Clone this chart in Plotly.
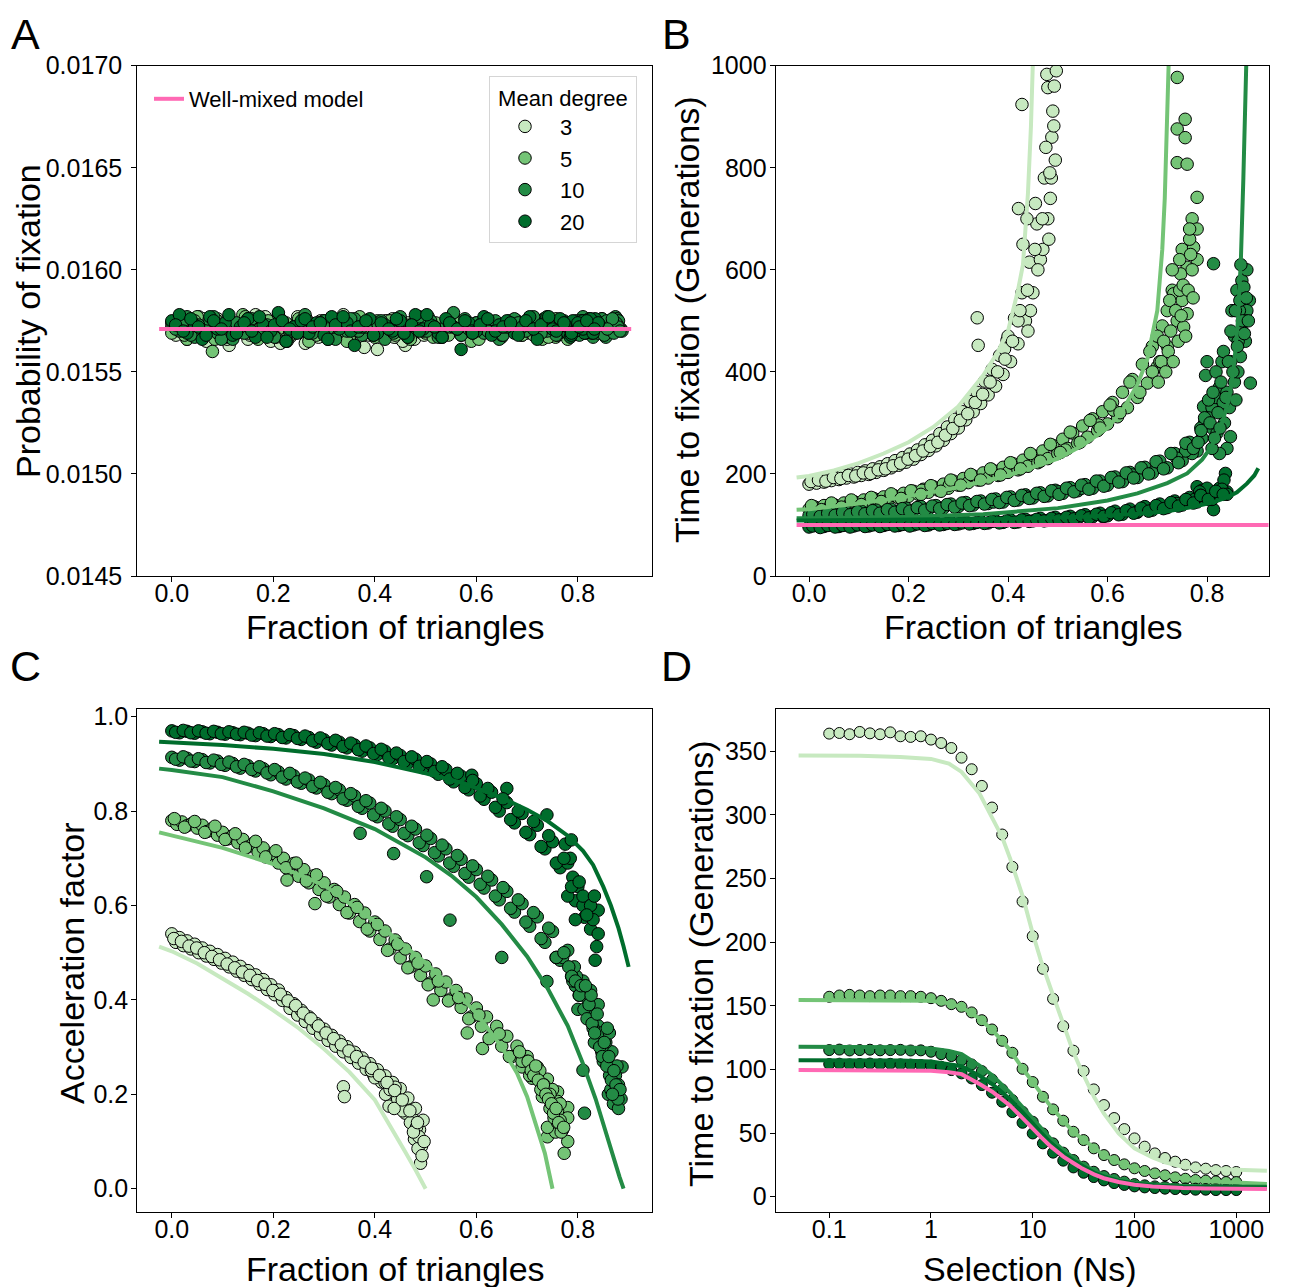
import plotly.graph_objects as go

FONT = "Liberation Sans, Arial, sans-serif"
DEGREES = ["3", "5", "10", "20"]
COLORS = ["#c7e9c0", "#74c476", "#238b45", "#006d2c"]
PINK = "#ff69b4"

# ---------------- Panels A/B/C : per-network data ----------------
# k = 3
X3 = [0.000,0.008,0.015,0.023,0.030,0.038,0.045,0.053,0.060,0.068,
      0.075,0.083,0.090,0.098,0.105,0.113,0.120,0.128,0.135,0.143,
      0.150,0.158,0.165,0.173,0.180,0.188,0.195,0.203,0.210,0.218,
      0.225,0.233,0.240,0.248,0.255,0.263,0.270,0.278,0.285,0.293,
      0.300,0.308,0.315,0.323,0.330,0.338,0.345,0.353,0.360,0.368,
      0.375,0.383,0.390,0.398,0.405,0.413,0.420,0.428,0.435,0.443,
      0.450,0.458,0.465,0.473,0.480,0.488,0.495,
      0.338,0.340,0.428,0.478,0.480,0.490,0.492,0.460,0.470,0.482,
      0.445,0.420,0.485,0.487,0.493,0.497,0.476,0.455,0.400,0.393,
      0.421,0.430,0.438,0.440]
X3_MORE = [0.004,0.019,0.034,0.049,0.064,0.079,0.094,0.109,0.124,0.139,
           0.154,0.169,0.184,0.199,0.214,0.229,0.244,0.259,0.274,0.289,
           0.304,0.319,0.334,0.349,0.364,0.379,0.394,0.409,0.424,0.439,
           0.454,0.469,0.484]
A3 = [0.01572,0.01568,0.01575,0.01570,0.01566,0.01574,0.01569,0.01577,0.01571,0.01565,
      0.01573,0.01570,0.01576,0.01567,0.01572,0.01563,0.01574,0.01569,0.01571,0.01575,
      0.01566,0.01572,0.01578,0.01568,0.01570,0.01574,0.01565,0.01571,0.01576,0.01569,
      0.01573,0.01567,0.01572,0.01577,0.01570,0.01564,0.01573,0.01571,0.01568,0.01575,
      0.01570,0.01566,0.01574,0.01572,0.01569,0.01578,0.01567,0.01571,0.01573,0.01565,
      0.01570,0.01575,0.01568,0.01572,0.01561,0.01574,0.01569,0.01571,0.01576,0.01567,
      0.01573,0.01570,0.01574,0.01566,0.01572,0.01569,0.01575,
      0.01571,0.01568,0.01574,0.01566,0.01572,0.01575,0.01569,0.01563,0.01573,0.01570,
      0.01576,0.01567,0.01572,0.01570,0.01574,0.01568,0.01571,0.01565,0.01573,0.01569,
      0.01575,0.01570,0.01567,0.01572]
A3_MORE = [0.01570,0.01574,0.01567,0.01572,0.01576,0.01569,0.01573,0.01566,0.01571,0.01575,
           0.01568,0.01572,0.01577,0.01570,0.01564,0.01573,0.01569,0.01575,0.01571,0.01567,
           0.01574,0.01570,0.01576,0.01568,0.01572,0.01562,0.01573,0.01570,0.01575,0.01569,
           0.01572,0.01567,0.01574]
B3 = [180,186,182,189,184,192,187,195,189,198,
      192,200,194,203,197,206,199,210,203,214,
      207,220,212,226,217,232,223,239,229,247,
      238,257,246,266,255,279,266,292,279,307,
      290,322,306,342,322,360,338,382,355,405,
      372,432,395,462,420,505,455,555,500,615,
      555,690,620,780,700,860,815,
      506,452,924,983,957,911,882,600,640,660,
      520,500,740,780,960,990,840,730,470,445,
      720,650,700,480]
B3_MORE = [185,188,186,193,191,197,196,202,201,208,
           210,216,221,229,236,245,254,262,276,289,
           305,318,340,356,380,400,425,460,520,560,
           640,700,790]
C3 = [0.540,0.522,0.532,0.515,0.525,0.508,0.518,0.500,0.510,0.493,
      0.503,0.486,0.496,0.478,0.488,0.470,0.480,0.461,0.471,0.452,
      0.462,0.443,0.453,0.433,0.443,0.422,0.432,0.411,0.421,0.399,
      0.405,0.382,0.392,0.368,0.378,0.354,0.364,0.340,0.350,0.327,
      0.338,0.314,0.325,0.302,0.313,0.290,0.301,0.278,0.289,0.266,
      0.277,0.253,0.265,0.240,0.252,0.226,0.239,0.212,0.225,0.195,
      0.212,0.176,0.192,0.152,0.170,0.125,0.145,
      0.216,0.195,0.175,0.105,0.125,0.054,0.090,0.160,0.140,0.130,
      0.190,0.225,0.085,0.110,0.070,0.100,0.120,0.165,0.235,0.250,
      0.200,0.210,0.170,0.215]
C3_MORE = [0.530,0.524,0.514,0.510,0.500,0.492,0.485,0.476,0.468,0.459,
           0.452,0.441,0.433,0.420,0.412,0.398,0.388,0.372,0.360,0.345,
           0.330,0.318,0.305,0.292,0.280,0.268,0.255,0.240,0.225,0.208,
           0.188,0.165,0.140]

# k = 5
X5 = [0.00,0.01,0.02,0.03,0.04,0.05,0.06,0.07,0.08,0.09,
      0.10,0.11,0.12,0.13,0.14,0.15,0.16,0.17,0.18,0.19,
      0.20,0.21,0.22,0.23,0.24,0.25,0.26,0.27,0.28,0.29,
      0.30,0.31,0.32,0.33,0.34,0.35,0.36,0.37,0.38,0.39,
      0.40,0.41,0.42,0.43,0.44,0.45,0.46,0.47,0.48,0.49,
      0.50,0.51,0.52,0.53,0.54,0.55,0.56,0.57,0.58,0.59,
      0.60,0.61,0.62,0.63,0.64,0.65,0.66,0.67,0.68,0.69,
      0.70,0.71,0.72,0.73,0.74,0.75,0.76,0.77,0.78,
      0.740,0.756,0.740,0.756,0.740,0.760,0.780,0.780,0.773,0.760,
      0.747,0.733,0.760,0.753,0.612,0.582,0.515,0.720,0.700,0.730,
      0.750,0.690,0.770,0.765,0.745,0.227,0.282]
X5_MORE = [0.005,0.025,0.045,0.065,0.085,0.105,0.125,0.145,0.165,0.185,
           0.205,0.225,0.245,0.265,0.285,0.305,0.325,0.345,0.365,0.385,
           0.405,0.425,0.445,0.465,0.485,0.505,0.525,0.545,0.565,0.585,
           0.605,0.625,0.645,0.665,0.685,0.705,0.725,0.745,0.765,
           0.702,0.708,0.713,0.717,0.722,0.727,0.732,0.737,0.742,0.748,
           0.752,0.757,0.762,0.767,0.772]
A5 = [0.01569,0.01574,0.01571,0.01566,0.01573,0.01577,0.01568,0.01572,0.01560,0.01575,
      0.01570,0.01567,0.01574,0.01571,0.01578,0.01569,0.01573,0.01566,0.01572,0.01575,
      0.01568,0.01571,0.01574,0.01567,0.01570,0.01576,0.01572,0.01565,0.01573,0.01569,
      0.01575,0.01571,0.01568,0.01574,0.01570,0.01566,0.01573,0.01577,0.01569,0.01572,
      0.01567,0.01574,0.01571,0.01575,0.01568,0.01570,0.01573,0.01566,0.01572,0.01576,
      0.01569,0.01571,0.01574,0.01567,0.01573,0.01570,0.01575,0.01568,0.01572,0.01565,
      0.01574,0.01570,0.01576,0.01569,0.01572,0.01567,0.01573,0.01571,0.01575,0.01568,
      0.01572,0.01570,0.01574,0.01566,0.01573,0.01569,0.01575,0.01571,0.01568,
      0.01572,0.01569,0.01574,0.01567,0.01571,0.01575,0.01570,0.01566,0.01573,0.01569,
      0.01572,0.01576,0.01568,0.01571,0.01574,0.01570,0.01567,0.01573,0.01569,0.01575,
      0.01571,0.01568,0.01574,0.01570,0.01572,0.01565,0.01573]
A5_MORE = [0.01573,0.01568,0.01575,0.01570,0.01566,0.01574,0.01571,0.01577,0.01569,0.01572,
           0.01567,0.01574,0.01570,0.01576,0.01568,0.01573,0.01571,0.01565,0.01574,0.01570,
           0.01575,0.01569,0.01572,0.01567,0.01573,0.01577,0.01570,0.01568,0.01574,0.01571,
           0.01566,0.01573,0.01569,0.01575,0.01570,0.01572,0.01568,0.01574,0.01571,
           0.01570,0.01574,0.01568,0.01572,0.01575,0.01569,0.01573,0.01571,0.01567,0.01574,
           0.01570,0.01576,0.01569,0.01572,0.01570]
B5 = [131,136,133,138,134,140,136,143,139,146,
      142,149,145,152,148,155,150,158,153,162,
      156,166,160,170,164,175,168,180,172,186,
      178,191,183,196,188,202,192,207,197,213,
      203,220,208,227,215,236,222,245,230,256,
      240,268,250,280,260,294,272,308,285,322,
      298,340,312,360,330,385,350,415,378,450,
      410,490,450,560,500,640,560,700,620,
      977,895,876,859,810,807,742,680,644,605,
      592,553,514,488,325,296,247,520,470,600,
      540,400,600,660,620,168,178]
B5_MORE = [138,130,143,135,149,140,154,146,161,152,
           167,160,177,166,188,178,199,188,210,198,
           222,210,240,225,258,242,282,262,305,290,
           335,320,380,360,440,420,540,560,680,
           380,420,460,400,440,480,420,520,460,510,
           570,470,560,630,545]
C5 = [0.780,0.772,0.777,0.769,0.774,0.764,0.770,0.757,0.763,0.749,
      0.755,0.741,0.748,0.733,0.740,0.724,0.731,0.713,0.722,0.702,
      0.710,0.690,0.700,0.676,0.689,0.662,0.676,0.648,0.663,0.634,
      0.648,0.618,0.634,0.602,0.618,0.584,0.602,0.566,0.584,0.546,
      0.565,0.528,0.546,0.508,0.527,0.489,0.508,0.470,0.490,0.452,
      0.472,0.436,0.455,0.420,0.438,0.402,0.420,0.384,0.402,0.364,
      0.383,0.344,0.364,0.324,0.344,0.302,0.323,0.280,0.302,0.258,
      0.280,0.234,0.258,0.208,0.232,0.178,0.205,0.148,0.172,
      0.110,0.120,0.130,0.160,0.200,0.140,0.100,0.150,0.075,0.165,
      0.190,0.220,0.185,0.150,0.297,0.330,0.400,0.240,0.270,0.195,
      0.210,0.270,0.125,0.145,0.170,0.654,0.604]
C5_MORE = [0.784,0.766,0.778,0.755,0.768,0.740,0.752,0.722,0.736,0.703,
           0.716,0.680,0.690,0.652,0.665,0.620,0.630,0.585,0.596,0.550,
           0.560,0.505,0.518,0.468,0.478,0.432,0.440,0.398,0.405,0.360,
           0.368,0.318,0.328,0.280,0.290,0.240,0.250,0.200,0.180,
           0.270,0.250,0.240,0.260,0.230,0.210,0.220,0.200,0.190,0.180,
           0.160,0.170,0.140,0.120,0.130]

# k = 10
X10 = [0.000,0.015,0.030,0.045,0.060,0.075,0.090,0.105,0.120,0.135,
       0.150,0.165,0.180,0.195,0.210,0.225,0.240,0.255,0.270,0.285,
       0.300,0.315,0.330,0.345,0.360,0.375,0.390,0.405,0.420,0.435,
       0.450,0.465,0.480,0.495,0.510,0.525,0.540,0.555,0.570,0.585,
       0.600,0.615,0.630,0.645,0.660,0.675,0.690,0.705,0.720,0.735,
       0.750,0.765,0.780,0.795,0.810,0.825,0.840,0.855,0.870,0.885,
       0.800,0.797,0.813,0.793,0.887,0.847,0.650,0.548,0.860,0.870,
       0.874,0.880,0.867,0.855,0.845,0.835,0.820,0.810,0.830,0.850,
       0.862,0.877,0.840,0.825,0.810,0.790,0.770,0.757,0.880,0.865,
       0.371,0.437,0.502,0.739]
X10_MORE = [0.0075,0.0225,0.0375,0.0525,0.0675,0.0825,0.0975,0.1125,0.1275,0.1425,
            0.1575,0.1725,0.1875,0.2025,0.2175,0.2325,0.2475,0.2625,0.2775,0.2925,
            0.3075,0.3225,0.3375,0.3525,0.3675,0.3825,0.3975,0.4125,0.4275,0.4425,
            0.4575,0.4725,0.4875,0.5025,0.5175,0.5325,0.5475,0.5625,0.5775,0.5925,
            0.6075,0.6225,0.6375,0.6525,0.6675,0.6825,0.6975,0.7125,0.7275,0.7425,
            0.7575,0.7725,0.7875,0.8025,0.8175,0.8325,0.8475,0.8625,0.8775,
            0.782,0.788,0.795,0.803,0.806,0.812,0.818,0.822,0.828,0.833,
            0.838,0.843,0.848,0.852,0.857,0.861,0.866,0.871,0.875,0.879,
            0.883,0.868,0.858,0.826,0.815]
A10 = [0.01574,0.01570,0.01577,0.01567,0.01572,0.01575,0.01569,0.01573,0.01566,0.01571,
       0.01576,0.01568,0.01573,0.01570,0.01578,0.01565,0.01572,0.01574,0.01569,0.01571,
       0.01575,0.01567,0.01573,0.01570,0.01576,0.01568,0.01572,0.01574,0.01566,0.01571,
       0.01577,0.01569,0.01573,0.01570,0.01575,0.01567,0.01572,0.01579,0.01568,0.01571,
       0.01574,0.01569,0.01573,0.01566,0.01571,0.01576,0.01570,0.01573,0.01568,0.01575,
       0.01571,0.01574,0.01569,0.01572,0.01577,0.01570,0.01573,0.01567,0.01574,0.01571,
       0.01572,0.01575,0.01569,0.01573,0.01570,0.01576,0.01568,0.01572,0.01574,0.01570,
       0.01577,0.01571,0.01573,0.01569,0.01575,0.01570,0.01572,0.01574,0.01567,0.01573,
       0.01571,0.01576,0.01569,0.01572,0.01574,0.01570,0.01573,0.01568,0.01575,0.01571,
       0.01572,0.01569,0.01574,0.01570]
A10_MORE = [0.01571,0.01575,0.01568,0.01573,0.01570,0.01577,0.01566,0.01572,0.01574,0.01569,
            0.01576,0.01571,0.01573,0.01567,0.01575,0.01570,0.01572,0.01578,0.01569,0.01574,
            0.01571,0.01566,0.01573,0.01576,0.01570,0.01572,0.01568,0.01575,0.01571,0.01574,
            0.01569,0.01573,0.01577,0.01570,0.01572,0.01567,0.01574,0.01571,0.01576,0.01569,
            0.01573,0.01570,0.01575,0.01568,0.01572,0.01574,0.01570,0.01577,0.01569,0.01573,
            0.01571,0.01575,0.01568,0.01572,0.01574,0.01570,0.01576,0.01571,0.01573,
            0.01574,0.01570,0.01573,0.01568,0.01575,0.01571,0.01572,0.01576,0.01569,0.01573,
            0.01570,0.01574,0.01572,0.01568,0.01575,0.01571,0.01573,0.01569,0.01574,0.01572,
            0.01570,0.01576,0.01571,0.01573,0.01569]
B10 = [118,122,119,124,120,125,121,127,123,129,
       125,131,127,133,129,136,131,138,133,141,
       136,144,139,147,142,151,145,155,149,159,
       153,163,157,168,162,173,167,179,172,186,
       178,194,185,203,193,213,202,225,212,240,
       226,262,245,300,290,370,360,470,480,540,
       420,393,612,332,378,273,198,172,560,579,
       566,520,430,380,330,300,280,330,420,520,
       400,460,250,240,250,270,240,245,600,520,
       145,155,165,231]
B10_MORE = [121,117,123,119,125,120,126,122,128,123,
            130,125,132,127,134,129,137,132,140,135,
            143,138,146,141,150,144,154,148,158,152,
            162,156,167,160,172,165,178,170,186,176,
            193,184,202,192,212,200,224,210,240,222,
            260,250,290,310,350,340,420,460,500,
            262,285,310,345,300,360,400,320,380,440,
            350,420,480,400,520,450,540,500,475,545,
            500,610,345,290,270]
C10 = [0.914,0.908,0.912,0.905,0.909,0.902,0.906,0.897,0.901,0.891,
       0.896,0.885,0.890,0.877,0.883,0.868,0.875,0.859,0.866,0.849,
       0.856,0.837,0.845,0.823,0.832,0.806,0.817,0.788,0.800,0.768,
       0.782,0.748,0.762,0.727,0.742,0.705,0.720,0.683,0.698,0.660,
       0.676,0.637,0.654,0.612,0.630,0.586,0.604,0.556,0.576,0.522,
       0.545,0.484,0.505,0.430,0.440,0.360,0.345,0.270,0.230,0.190,
       0.380,0.450,0.160,0.470,0.258,0.290,0.490,0.569,0.200,0.180,
       0.240,0.220,0.290,0.310,0.330,0.370,0.400,0.251,0.340,0.270,
       0.330,0.260,0.390,0.420,0.420,0.440,0.490,0.490,0.170,0.210,
       0.753,0.710,0.661,0.439]
C10_MORE = [0.910,0.915,0.906,0.911,0.903,0.908,0.899,0.904,0.894,0.899,
            0.888,0.894,0.881,0.888,0.872,0.880,0.862,0.870,0.852,0.861,
            0.840,0.850,0.826,0.837,0.810,0.822,0.792,0.806,0.773,0.788,
            0.753,0.768,0.733,0.749,0.712,0.728,0.690,0.706,0.668,0.684,
            0.645,0.662,0.620,0.638,0.594,0.612,0.565,0.585,0.530,0.552,
            0.490,0.500,0.450,0.410,0.380,0.310,0.300,0.240,0.210,
            0.470,0.450,0.440,0.410,0.430,0.380,0.360,0.390,0.350,0.330,
            0.370,0.300,0.280,0.310,0.260,0.280,0.230,0.250,0.220,0.190,
            0.210,0.200,0.340,0.410,0.430]

# k = 20
X20 = [0.000,0.015,0.030,0.045,0.060,0.075,0.090,0.105,0.120,0.135,
       0.150,0.165,0.180,0.195,0.210,0.225,0.240,0.255,0.270,0.285,
       0.300,0.315,0.330,0.345,0.360,0.375,0.390,0.405,0.420,0.435,
       0.450,0.465,0.480,0.495,0.510,0.525,0.540,0.555,0.570,0.585,
       0.600,0.615,0.630,0.645,0.660,0.675,0.690,0.705,0.720,0.735,
       0.750,0.765,0.780,0.795,0.810,0.825,0.840,
       0.837,0.834,0.813,0.780,0.790,0.795,0.800,0.785,0.775,0.810,
       0.825,0.830,0.840,0.591,0.660,0.739,0.787]
X20_MORE = [0.0075,0.0225,0.0375,0.0525,0.0675,0.0825,0.0975,0.1125,0.1275,0.1425,
            0.1575,0.1725,0.1875,0.2025,0.2175,0.2325,0.2475,0.2625,0.2775,0.2925,
            0.3075,0.3225,0.3375,0.3525,0.3675,0.3825,0.3975,0.4125,0.4275,0.4425,
            0.4575,0.4725,0.4875,0.5025,0.5175,0.5325,0.5475,0.5625,0.5775,0.5925,
            0.6075,0.6225,0.6375,0.6525,0.6675,0.6825,0.6975,0.7125,0.7275,0.7425,
            0.7575,0.7725,0.7875,0.8025,0.8175,0.8325]
A20 = [0.01575,0.01578,0.01569,0.01573,0.01566,0.01577,0.01571,0.01574,0.01568,0.01572,
       0.01576,0.01567,0.01573,0.01570,0.01579,0.01565,0.01572,0.01575,0.01569,0.01574,
       0.01568,0.01577,0.01571,0.01574,0.01563,0.01572,0.01576,0.01569,0.01573,0.01570,
       0.01575,0.01567,0.01578,0.01571,0.01573,0.01569,0.01576,0.01572,0.01561,0.01574,
       0.01570,0.01577,0.01568,0.01573,0.01575,0.01569,0.01572,0.01577,0.01566,0.01574,
       0.01571,0.01576,0.01569,0.01573,0.01575,0.01570,0.01574,
       0.01573,0.01576,0.01569,0.01572,0.01575,0.01570,0.01574,0.01567,0.01573,0.01571,
       0.01576,0.01569,0.01574,0.01570,0.01572,0.01577,0.01568]
A20_MORE = [0.01573,0.01570,0.01576,0.01572,0.01568,0.01575,0.01571,0.01578,0.01569,0.01574,
            0.01570,0.01577,0.01567,0.01573,0.01575,0.01571,0.01569,0.01576,0.01572,0.01574,
            0.01566,0.01573,0.01577,0.01570,0.01572,0.01575,0.01568,0.01574,0.01571,0.01576,
            0.01569,0.01573,0.01570,0.01578,0.01572,0.01567,0.01574,0.01571,0.01575,0.01569,
            0.01573,0.01576,0.01570,0.01572,0.01574,0.01568,0.01575,0.01571,0.01573,0.01577,
            0.01570,0.01574,0.01569,0.01572,0.01575,0.01571]
B20 = [96,99,97,100,97,100,98,101,98,101,
       99,102,99,102,100,103,100,104,101,105,
       102,106,103,107,104,108,105,110,106,111,
       108,113,109,115,111,117,113,120,116,123,
       118,127,121,131,125,136,129,141,134,147,
       139,154,145,162,155,172,165,
       201,188,130,175,168,160,172,165,150,150,
       160,170,160,116,126,142,158]
B20_MORE = [98,95,99,96,99,96,100,97,100,97,
            101,98,101,98,102,99,103,100,103,101,
            104,102,105,103,107,104,108,105,110,107,
            111,108,113,110,115,112,118,114,121,117,
            124,120,128,123,133,127,138,132,144,137,
            150,143,158,150,166,160]
C20 = [0.970,0.966,0.969,0.965,0.968,0.964,0.967,0.963,0.966,0.962,
       0.965,0.960,0.964,0.958,0.962,0.955,0.960,0.952,0.956,0.946,
       0.951,0.940,0.946,0.934,0.940,0.927,0.934,0.920,0.927,0.911,
       0.918,0.902,0.910,0.892,0.900,0.878,0.888,0.862,0.874,0.845,
       0.858,0.825,0.840,0.800,0.818,0.775,0.795,0.750,0.770,0.720,
       0.735,0.680,0.690,0.610,0.600,0.550,0.590,
       0.513,0.484,0.575,0.620,0.660,0.570,0.640,0.700,0.730,0.620,
       0.600,0.570,0.540,0.876,0.848,0.792,0.739]
C20_MORE = [0.967,0.971,0.966,0.970,0.965,0.969,0.964,0.968,0.963,0.967,
            0.961,0.966,0.959,0.964,0.956,0.962,0.954,0.959,0.949,0.955,
            0.943,0.950,0.937,0.944,0.930,0.938,0.922,0.931,0.913,0.923,
            0.905,0.915,0.895,0.905,0.884,0.894,0.868,0.880,0.850,0.865,
            0.832,0.848,0.808,0.826,0.782,0.800,0.755,0.778,0.725,0.748,
            0.690,0.700,0.640,0.650,0.580,0.620]

# ---------------- Model curves ----------------
WM_A_X = [-0.025, 0.905]
WM_A_Y = [0.01571, 0.01571]
WM_B_X = [-0.025, 0.925]
WM_B_Y = [100, 100]

LB3_X = [-0.025, 0.0, 0.05, 0.10, 0.15, 0.20, 0.25, 0.30, 0.35, 0.38, 0.40, 0.42, 0.43, 0.44, 0.446, 0.450]
LB3_Y = [193, 196, 207, 221, 240, 262, 292, 332, 393, 440, 480, 560, 610, 750, 880, 1010]
LB5_X = [-0.025, 0.0, 0.1, 0.2, 0.3, 0.4, 0.5, 0.55, 0.6, 0.63, 0.66, 0.68, 0.70, 0.71, 0.715, 0.72, 0.723]
LB5_Y = [130, 131, 142, 156, 174, 197, 230, 256, 290, 325, 375, 425, 520, 640, 740, 900, 1010]
LB10_X = [-0.025, 0.0, 0.2, 0.35, 0.5, 0.6, 0.66, 0.72, 0.76, 0.79, 0.81, 0.83, 0.845, 0.855, 0.862, 0.868, 0.873, 0.877, 0.879]
LB10_Y = [113, 113, 116, 121, 133, 148, 162, 182, 201, 228, 255, 300, 350, 420, 500, 620, 780, 980, 1010]
LB20_X = [-0.025, 0.2, 0.4, 0.55, 0.65, 0.72, 0.77, 0.81, 0.84, 0.86, 0.88, 0.895, 0.903]
LB20_Y = [109, 110, 112, 116, 121, 127, 135, 144, 154, 164, 181, 197, 211]

LC3_X = [-0.025, 0.0, 0.05, 0.1, 0.15, 0.2, 0.25, 0.3, 0.35, 0.4, 0.43, 0.46, 0.48, 0.5]
LC3_Y = [0.513, 0.503, 0.477, 0.446, 0.413, 0.378, 0.340, 0.296, 0.247, 0.188, 0.135, 0.078, 0.040, 0.0]
LC5_X = [-0.025, 0.0, 0.1, 0.2, 0.3, 0.4, 0.5, 0.55, 0.6, 0.65, 0.68, 0.7, 0.72, 0.735, 0.75]
LC5_Y = [0.755, 0.748, 0.722, 0.688, 0.643, 0.566, 0.478, 0.428, 0.372, 0.300, 0.245, 0.195, 0.130, 0.075, 0.0]
LC10_X = [-0.025, 0.0, 0.1, 0.2, 0.3, 0.4, 0.5, 0.55, 0.6, 0.65, 0.7, 0.74, 0.78, 0.81, 0.835, 0.855, 0.87, 0.882, 0.89]
LC10_Y = [0.890, 0.887, 0.872, 0.842, 0.806, 0.762, 0.702, 0.664, 0.618, 0.560, 0.492, 0.425, 0.345, 0.265, 0.190, 0.118, 0.065, 0.025, 0.0]
LC20_X = [-0.025, 0.0, 0.1, 0.2, 0.3, 0.4, 0.5, 0.575, 0.65, 0.7, 0.74, 0.78, 0.81, 0.83, 0.85, 0.865, 0.88, 0.89, 0.9]
LC20_Y = [0.947, 0.946, 0.940, 0.932, 0.921, 0.904, 0.880, 0.859, 0.828, 0.803, 0.779, 0.748, 0.716, 0.686, 0.640, 0.600, 0.552, 0.513, 0.470]

# ---------------- Panel D ----------------
SEL = [0.1, 0.1259, 0.1585, 0.1995, 0.2512, 0.3162, 0.3981, 0.5012, 0.631, 0.7943,
       1.0, 1.259, 1.585, 1.995, 2.512, 3.162, 3.981, 5.012, 6.31, 7.943,
       10.0, 12.59, 15.85, 19.95, 25.12, 31.62, 39.81, 50.12, 63.1, 79.43,
       100.0, 125.9, 158.5, 199.5, 251.2, 316.2, 398.1, 501.2, 631.0, 794.3, 1000.0]
D3 = [363.9, 364.4, 363.4, 365.2, 364.1, 363.4, 364.9, 361.8, 361.3, 361.8,
      359.2, 356.5, 352.6, 345.0, 335.9, 322.8, 305.8, 284.6, 259.2, 232.0,
      204.7, 179.1, 155.5, 134.0, 114.7, 98.7, 84.3, 72.0, 61.8, 53.1,
      45.8, 39.3, 34.0, 30.4, 27.5, 25.1, 23.0, 22.0, 20.9, 20.2, 19.4]
D5 = [157.1, 158.1, 158.6, 158.1, 157.6, 158.1, 158.1, 157.6, 157.6, 157.1,
      156.0, 153.9, 151.3, 149.2, 144.8, 138.7, 131.4, 122.5, 113.1, 100.5,
      90.1, 78.5, 68.6, 59.7, 51.0, 44.5, 38.0, 32.7, 28.8, 25.4,
      22.3, 20.2, 18.3, 16.8, 15.2, 14.1, 13.1, 12.6, 12.0, 11.5, 11.5]
D10 = [115.2, 115.6, 114.9, 115.2, 115.5, 115.0, 115.2, 115.4, 114.9, 115.0,
       113.9, 112.0, 110.5, 107.3, 103.9, 98.7, 92.1, 84.3, 75.9, 66.8,
       58.9, 49.7, 41.9, 34.6, 28.8, 23.6, 19.6, 16.2, 13.9, 11.8,
       9.9, 8.9, 8.1, 7.6, 7.1, 6.5, 6.3, 6.0, 6.0, 5.8, 5.8]
D20 = [104.2, 104.5, 104.0, 104.3, 104.6, 104.1, 104.4, 104.0, 103.8, 103.5,
       103.0, 102.1, 99.5, 96.9, 92.9, 87.7, 81.7, 74.6, 66.5, 58.1,
       49.7, 41.9, 34.6, 28.3, 23.0, 18.8, 15.4, 12.8, 10.7, 9.2,
       8.1, 7.3, 6.8, 6.3, 6.0, 5.8, 5.5, 5.5, 5.2, 5.2, 5.2]

SEL_LINE = [0.05, 0.1, 0.2, 0.5, 1, 1.5, 2, 3, 4, 5, 6, 8, 10, 12, 15, 20, 25, 30, 40, 50,
            70, 100, 150, 200, 300, 500, 1000, 2000]
LD3 = [346.6, 346.6, 346.5, 345.5, 344.0, 340.3, 333.8, 316.8, 298.4, 282.7, 265.7, 235.6, 206.8, 185.9,
       163.6, 134.8, 113.9, 99.5, 78.5, 65.4, 49.7, 38.0, 30.9, 27.0, 23.6, 22.0, 20.9, 20.4]
LD5 = [154.5, 154.5, 154.5, 154.3, 154.0, 152.0, 149.0, 140.0, 131.0, 122.5, 115.0, 100.5, 90.0, 81.0,
       71.0, 59.7, 51.0, 46.0, 38.0, 32.7, 27.0, 22.3, 18.6, 16.8, 14.3, 12.3, 10.8, 10.0]
LD10 = [117.8, 117.8, 117.8, 117.4, 116.5, 114.5, 112.0, 103.0, 95.5, 88.0, 81.5, 70.0, 61.0, 54.0,
        45.5, 36.5, 30.5, 26.0, 20.5, 17.0, 13.5, 11.2, 9.7, 9.0, 8.5, 8.2, 8.0, 7.9]
LD20 = [107.3, 107.3, 107.3, 107.0, 106.3, 104.5, 102.5, 95.0, 88.5, 82.0, 76.5, 66.0, 57.0, 50.5,
        42.5, 34.0, 28.5, 24.5, 19.0, 16.0, 12.5, 10.3, 8.9, 8.3, 7.8, 7.5, 7.3, 7.2]
LDWM = [99.5, 99.5, 99.5, 99.3, 99.0, 97.8, 96.3, 88.5, 82.5, 76.5, 71.5, 61.5, 53.0, 47.0,
        39.5, 31.5, 26.5, 22.5, 17.5, 14.5, 11.5, 9.4, 8.0, 7.4, 6.9, 6.5, 6.2, 6.0]

NET = {
    "3": (X3 + X3_MORE, A3 + A3_MORE, B3 + B3_MORE, C3 + C3_MORE),
    "5": (X5 + X5_MORE, A5 + A5_MORE, B5 + B5_MORE, C5 + C5_MORE),
    "10": (X10 + X10_MORE, A10 + A10_MORE, B10 + B10_MORE, C10 + C10_MORE),
    "20": (X20 + X20_MORE, A20 + A20_MORE, B20 + B20_MORE, C20 + C20_MORE),
}
for k, arrs in NET.items():
    lens = [len(a) for a in arrs]
    assert len(set(lens)) == 1, (k, lens)

LINES_B = [(LB3_X, LB3_Y), (LB5_X, LB5_Y), (LB10_X, LB10_Y), (LB20_X, LB20_Y)]
LINES_C = [(LC3_X, LC3_Y), (LC5_X, LC5_Y), (LC10_X, LC10_Y), (LC20_X, LC20_Y)]
POINTS_D = [D3, D5, D10, D20]
LINES_D = [LD3, LD5, LD10, LD20]

fig = go.Figure()
MS = 12.5
LW = 4


def mk(color, size=MS):
    return dict(size=size, color=color, line=dict(color="black", width=1))


# Panel A
for i, k in enumerate(DEGREES):
    x, a, b, c = NET[k]
    fig.add_trace(go.Scatter(x=x, y=a, mode="markers", marker=mk(COLORS[i]), name=k,
                             xaxis="x", yaxis="y", legend="legend2", showlegend=True))
fig.add_trace(go.Scatter(x=WM_A_X, y=WM_A_Y, mode="lines", line=dict(color=PINK, width=LW),
                         name="Well-mixed model", xaxis="x", yaxis="y", legend="legend", showlegend=True))

# Panel B
for i, k in enumerate(DEGREES):
    x, a, b, c = NET[k]
    fig.add_trace(go.Scatter(x=x, y=b, mode="markers", marker=mk(COLORS[i]), showlegend=False,
                             xaxis="x2", yaxis="y2"))
for i, (lx, ly) in enumerate(LINES_B):
    fig.add_trace(go.Scatter(x=lx, y=ly, mode="lines", line=dict(color=COLORS[i], width=LW),
                             showlegend=False, xaxis="x2", yaxis="y2"))
fig.add_trace(go.Scatter(x=WM_B_X, y=WM_B_Y, mode="lines", line=dict(color=PINK, width=LW),
                         showlegend=False, xaxis="x2", yaxis="y2"))

# Panel C
for i, k in enumerate(DEGREES):
    x, a, b, c = NET[k]
    fig.add_trace(go.Scatter(x=x, y=c, mode="markers", marker=mk(COLORS[i]), showlegend=False,
                             xaxis="x3", yaxis="y3"))
for i, (lx, ly) in enumerate(LINES_C):
    fig.add_trace(go.Scatter(x=lx, y=ly, mode="lines", line=dict(color=COLORS[i], width=LW),
                             showlegend=False, xaxis="x3", yaxis="y3"))

# Panel D
for i, pts in enumerate(POINTS_D):
    fig.add_trace(go.Scatter(x=SEL, y=pts, mode="markers", marker=mk(COLORS[i], 11),
                             showlegend=False, xaxis="x4", yaxis="y4"))
for i, ly in enumerate(LINES_D):
    fig.add_trace(go.Scatter(x=SEL_LINE, y=ly, mode="lines", line=dict(color=COLORS[i], width=LW),
                             showlegend=False, xaxis="x4", yaxis="y4"))
fig.add_trace(go.Scatter(x=SEL_LINE, y=LDWM, mode="lines", line=dict(color=PINK, width=LW),
                         showlegend=False, xaxis="x4", yaxis="y4"))

W, H = 1296, 1287
OFF = 8  # page body margin in the browser


def px(x):
    return (x - OFF) / W


def py(y):
    return 1 - (y - OFF) / H


AXC = dict(showline=True, linecolor="black", linewidth=1.2, mirror=True, ticks="outside",
           ticklen=5, tickwidth=1.2, tickcolor="black", showgrid=False, zeroline=False,
           tickfont=dict(family=FONT, size=25, color="black"))
AXX = dict(AXC, ticklabelstandoff=-10)
AXY_A = dict(AXC, ticklabelstandoff=4)
AXY = dict(AXC, ticklabelstandoff=-2)

x_ticks = [0.0, 0.2, 0.4, 0.6, 0.8]
x_text = ["0.0", "0.2", "0.4", "0.6", "0.8"]

dom_left = [px(137.3), px(652)]
dom_right = [px(775.7), px(1268.5)]
dom_top = [py(576), py(65.7)]
dom_bot = [py(1211.7), py(709.3)]

fig.update_layout(
    width=W, height=H, margin=dict(l=0, r=0, t=0, b=0, autoexpand=False),
    paper_bgcolor="white", plot_bgcolor="white",
    font=dict(family=FONT, color="black"),
    xaxis=dict(AXX, domain=dom_left, anchor="y", range=[-0.068, 0.946],
               tickvals=x_ticks, ticktext=x_text),
    yaxis=dict(AXY_A, domain=dom_top, anchor="x", range=[0.0145, 0.0170],
               tickvals=[0.0145, 0.0150, 0.0155, 0.0160, 0.0165, 0.0170],
               ticktext=["0.0145", "0.0150", "0.0155", "0.0160", "0.0165", "0.0170"]),
    xaxis2=dict(AXX, domain=dom_right, anchor="y2", range=[-0.067, 0.9235],
                tickvals=x_ticks, ticktext=x_text),
    yaxis2=dict(AXY, domain=dom_top, anchor="x2", range=[0, 1000],
                tickvals=[0, 200, 400, 600, 800, 1000]),
    xaxis3=dict(AXX, domain=dom_left, anchor="y3", range=[-0.068, 0.946],
                tickvals=x_ticks, ticktext=x_text),
    yaxis3=dict(AXY, domain=dom_bot, anchor="x3", range=[-0.0487, 1.0157],
                tickvals=[0, 0.2, 0.4, 0.6, 0.8, 1.0],
                ticktext=["0.0", "0.2", "0.4", "0.6", "0.8", "1.0"]),
    xaxis4=dict(AXX, domain=dom_right, anchor="y4", type="log", range=[-1.526, 3.317],
                tickvals=[0.1, 1, 10, 100, 1000], ticktext=["0.1", "1", "10", "100", "1000"]),
    yaxis4=dict(AXY, domain=dom_bot, anchor="x4", range=[-11.8, 383.0],
                tickvals=[0, 50, 100, 150, 200, 250, 300, 350]),
    legend=dict(x=px(149), y=py(99), xanchor="left", yanchor="middle",
                bgcolor="rgba(0,0,0,0)", borderwidth=0,
                font=dict(family=FONT, size=22, color="black")),
    legend2=dict(x=px(489), y=py(76), xanchor="left", yanchor="top",
                 bgcolor="white", bordercolor="#d5d5d5", borderwidth=1,
                 itemwidth=60,
                 title=dict(text="\u00a0Mean degree\u00a0", font=dict(family=FONT, size=22, color="black")),
                 font=dict(family=FONT, size=22, color="black")),
)

TITLE_FS = 34
ann = []


def txt(t, x, y, size=TITLE_FS, angle=0, yanchor="middle"):
    ann.append(dict(text=t, x=px(x), y=py(y), xref="paper", yref="paper",
                    xanchor="center", yanchor=yanchor, showarrow=False, textangle=angle,
                    font=dict(family=FONT, size=size, color="black")))


# top-row panel letters sit flush with the page top
txt("A", 25, OFF, 43, yanchor="top")
txt("B", 676, OFF, 43, yanchor="top")
txt("C", 25, 666, 43)
txt("D", 676, 666, 43)
txt("Probability of fixation", 28, 321, angle=-90)
txt("Fraction of triangles", 395, 627)
txt("Time to fixation (Generations)", 687, 320, angle=-90)
txt("Fraction of triangles", 1033, 627)
txt("Acceleration factor", 72, 963, angle=-90)
txt("Fraction of triangles", 395, 1269)
txt("Time to fixation (Generations)", 701, 964, angle=-90)
txt("Selection (Ns)", 1030, 1269)
fig.update_layout(annotations=ann)

fig.write_html("out.html")
